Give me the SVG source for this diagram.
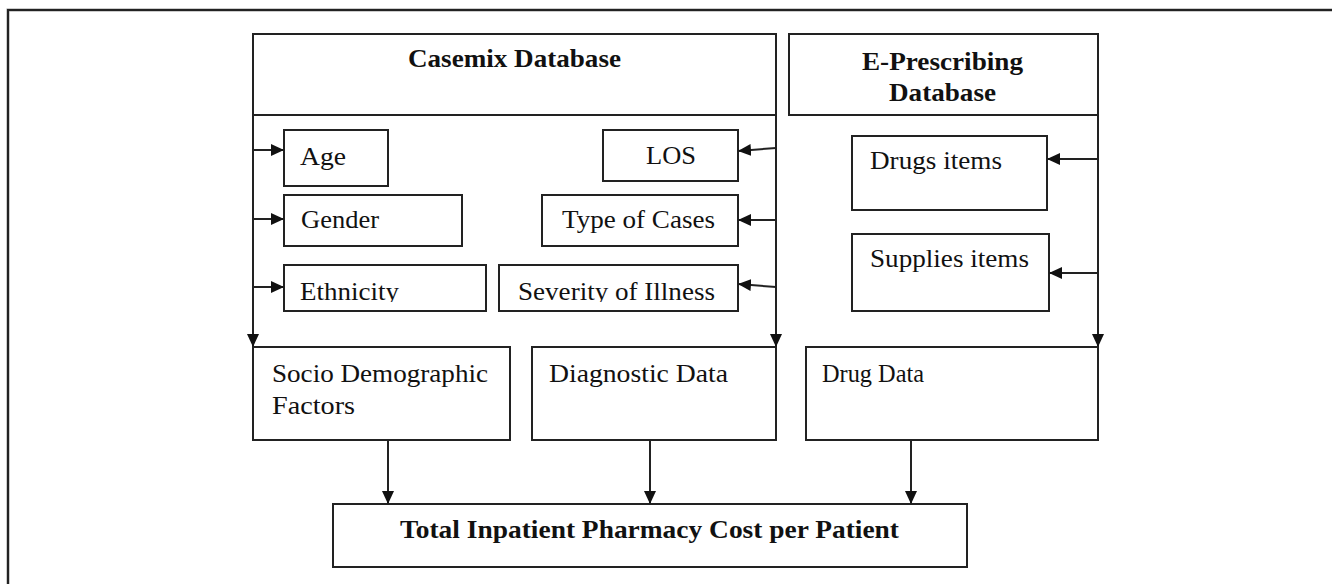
<svg xmlns="http://www.w3.org/2000/svg" width="1332" height="584" viewBox="0 0 1332 584">
  <defs>
    <style>
      .box { fill: #ffffff; stroke: #222222; stroke-width: 2; }
      .t { font-family: "Liberation Serif", "Times New Roman", serif; font-size: 26px; fill: #111111; }
      .b { font-family: "Liberation Serif", "Times New Roman", serif; font-size: 26px; font-weight: bold; fill: #111111; }
      .c { fill: none; stroke: #222222; stroke-width: 2; }
    </style>
    <marker id="arr" markerUnits="userSpaceOnUse" markerWidth="14" markerHeight="12" refX="13" refY="6" orient="auto">
      <path d="M0,0 L13,6 L0,12 Z" fill="#111111"/>
    </marker>
    <clipPath id="clipEth"><rect x="284" y="265" width="200" height="37"/></clipPath>
    <clipPath id="clipSev"><rect x="500" y="265" width="236" height="37"/></clipPath>
  </defs>
  <rect width="1332" height="584" fill="#ffffff"/>
  <path d="M8,584 V10 H1332" fill="none" stroke="#9a9a9a" stroke-width="3"/>
  <path d="M8,584 V10 H1332" fill="none" stroke="#222222" stroke-width="2"/>

  <g id="casemix">
    <rect class="box" x="253" y="34" width="523" height="81"/>
    <text class="b" x="408" y="67" textLength="213" lengthAdjust="spacingAndGlyphs">Casemix Database</text>
  </g>
  <g id="eprescribing">
    <rect class="box" x="789" y="34" width="309" height="81"/>
    <text class="b" x="862" y="70" textLength="161" lengthAdjust="spacingAndGlyphs">E-Prescribing</text>
    <text class="b" x="889" y="101" textLength="107" lengthAdjust="spacingAndGlyphs">Database</text>
  </g>

  <g id="age">
    <rect class="box" x="284" y="130" width="104" height="56"/>
    <text class="t" x="300" y="165" textLength="46" lengthAdjust="spacingAndGlyphs">Age</text>
  </g>
  <g id="gender">
    <rect class="box" x="284" y="195" width="178" height="51"/>
    <text class="t" x="301" y="228" textLength="78" lengthAdjust="spacingAndGlyphs">Gender</text>
  </g>
  <g id="ethnicity">
    <rect class="box" x="284" y="265" width="202" height="46"/>
    <text class="t" x="300" y="300" textLength="99" lengthAdjust="spacingAndGlyphs" clip-path="url(#clipEth)">Ethnicity</text>
  </g>
  <g id="los">
    <rect class="box" x="603" y="130" width="135" height="51"/>
    <text class="t" x="646" y="164" textLength="50" lengthAdjust="spacingAndGlyphs">LOS</text>
  </g>
  <g id="typeofcases">
    <rect class="box" x="542" y="195" width="196" height="51"/>
    <text class="t" x="562" y="228" textLength="153" lengthAdjust="spacingAndGlyphs">Type of Cases</text>
  </g>
  <g id="severity">
    <rect class="box" x="499" y="265" width="239" height="46"/>
    <text class="t" x="518" y="300" textLength="197" lengthAdjust="spacingAndGlyphs" clip-path="url(#clipSev)">Severity of Illness</text>
  </g>
  <g id="drugsitems">
    <rect class="box" x="852" y="136" width="195" height="74"/>
    <text class="t" x="870" y="169" textLength="132" lengthAdjust="spacingAndGlyphs">Drugs items</text>
  </g>
  <g id="suppliesitems">
    <rect class="box" x="852" y="234" width="197" height="77"/>
    <text class="t" x="870" y="267" textLength="159" lengthAdjust="spacingAndGlyphs">Supplies items</text>
  </g>

  <g id="socio">
    <rect class="box" x="253" y="347" width="257" height="93"/>
    <text class="t" x="272" y="382" textLength="216" lengthAdjust="spacingAndGlyphs">Socio Demographic</text>
    <text class="t" x="272" y="414" textLength="83" lengthAdjust="spacingAndGlyphs">Factors</text>
  </g>
  <g id="diagnostic">
    <rect class="box" x="532" y="347" width="244" height="93"/>
    <text class="t" x="549" y="382" textLength="179" lengthAdjust="spacingAndGlyphs">Diagnostic Data</text>
  </g>
  <g id="drugdata">
    <rect class="box" x="806" y="347" width="292" height="93"/>
    <text class="t" x="822" y="382" textLength="102" lengthAdjust="spacingAndGlyphs">Drug Data</text>
  </g>
  <g id="total">
    <rect class="box" x="333" y="504" width="634" height="63"/>
    <text class="b" x="400" y="538" textLength="499" lengthAdjust="spacingAndGlyphs">Total Inpatient Pharmacy Cost per Patient</text>
  </g>

  <g id="connectors">
    <path class="c" d="M253,115 V347" marker-end="url(#arr)"/>
    <path class="c" d="M253,150 H284" marker-end="url(#arr)"/>
    <path class="c" d="M253,219 H284" marker-end="url(#arr)"/>
    <path class="c" d="M253,287 H284" marker-end="url(#arr)"/>
    <path class="c" d="M776,115 V347" marker-end="url(#arr)"/>
    <path class="c" d="M776,148 L738,151" marker-end="url(#arr)"/>
    <path class="c" d="M776,220 H738" marker-end="url(#arr)"/>
    <path class="c" d="M776,287 L738,284" marker-end="url(#arr)"/>
    <path class="c" d="M1098,115 V347" marker-end="url(#arr)"/>
    <path class="c" d="M1098,159 H1047" marker-end="url(#arr)"/>
    <path class="c" d="M1098,273 H1049" marker-end="url(#arr)"/>
    <path class="c" d="M388,440 V504" marker-end="url(#arr)"/>
    <path class="c" d="M650,440 V504" marker-end="url(#arr)"/>
    <path class="c" d="M911,440 V504" marker-end="url(#arr)"/>
  </g>
</svg>
